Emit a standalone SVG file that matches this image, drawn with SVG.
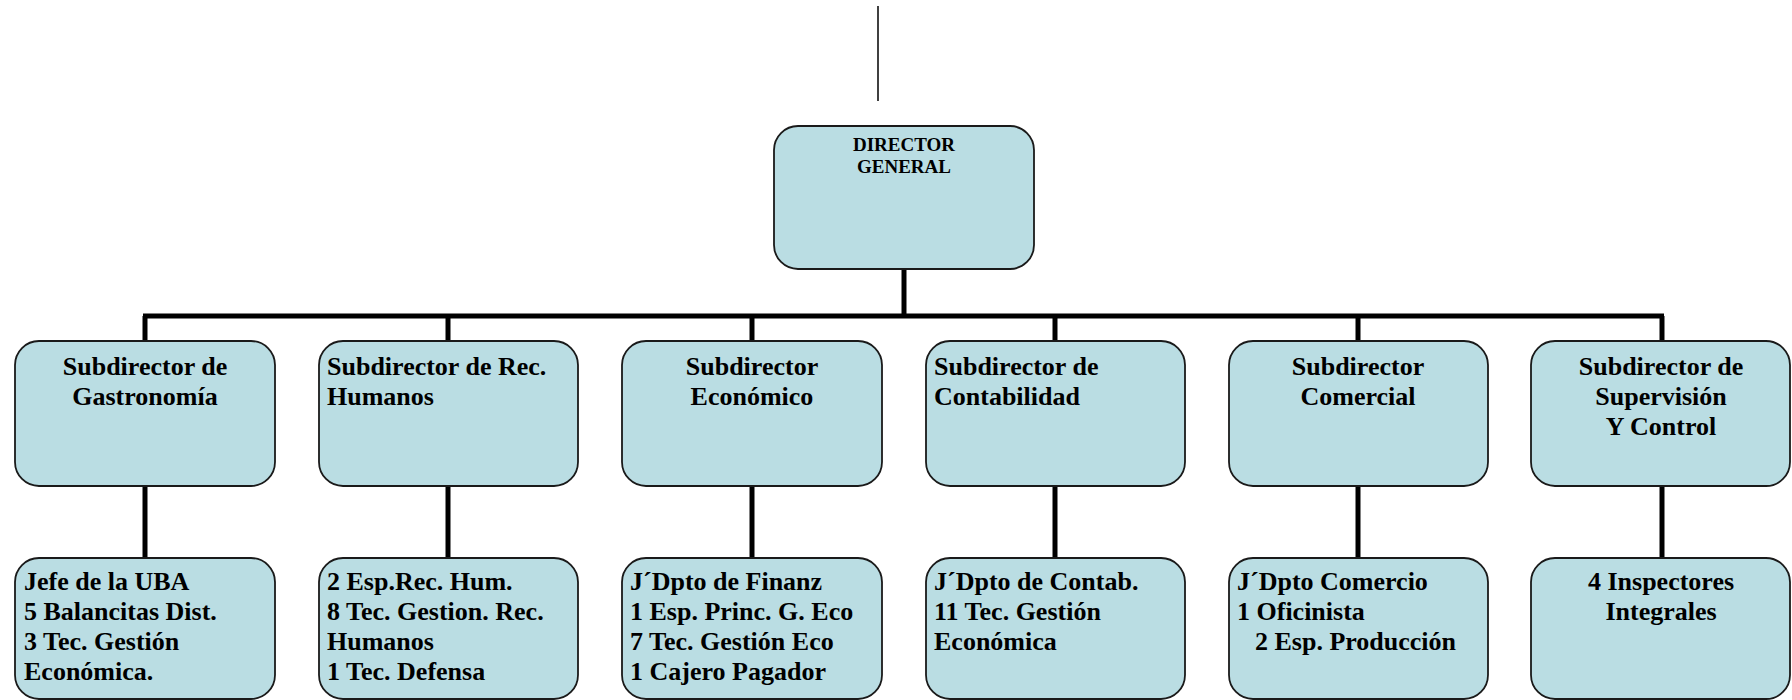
<svg xmlns="http://www.w3.org/2000/svg" width="1792" height="700" viewBox="0 0 1792 700">
<style>
.box{fill:#BADDE3;stroke:#1a1a1a;stroke-width:1.8}
.t{font-family:"Liberation Serif","Times New Roman",serif;font-weight:bold;font-size:26px;fill:#000}
.td{font-family:"Liberation Serif","Times New Roman",serif;font-weight:bold;font-size:19px;fill:#000}
.c{text-anchor:middle}
.thick{stroke:#000;stroke-width:5;fill:none}
.thin{stroke:#000;stroke-width:1.5;fill:none}
</style>
<rect width="1792" height="700" fill="#fff"/>
<g id="connectors">
<line class="thin" x1="878" y1="6" x2="878" y2="101"/>
<line class="thick" x1="904" y1="269" x2="904" y2="316"/>
<line class="thick" x1="143" y1="316" x2="1664" y2="316"/>
<line class="thick" x1="145" y1="316" x2="145" y2="341"/>
<line class="thick" x1="448" y1="316" x2="448" y2="341"/>
<line class="thick" x1="752" y1="316" x2="752" y2="341"/>
<line class="thick" x1="1055" y1="316" x2="1055" y2="341"/>
<line class="thick" x1="1358" y1="316" x2="1358" y2="341"/>
<line class="thick" x1="1662" y1="316" x2="1662" y2="341"/>
<line class="thick" x1="145" y1="486" x2="145" y2="558"/>
<line class="thick" x1="448" y1="486" x2="448" y2="558"/>
<line class="thick" x1="752" y1="486" x2="752" y2="558"/>
<line class="thick" x1="1055" y1="486" x2="1055" y2="558"/>
<line class="thick" x1="1358" y1="486" x2="1358" y2="558"/>
<line class="thick" x1="1662" y1="486" x2="1662" y2="558"/>
</g>
<g id="director">
<rect class="box" x="774" y="126" width="260" height="143" rx="24"/>
<text class="td c" x="904" y="151">DIRECTOR</text>
<text class="td c" x="904" y="173">GENERAL</text>
</g>
<g id="sub-gastronomia">
<rect class="box" x="15" y="341" width="260" height="145" rx="24"/>
<text class="t c" x="145" y="375">Subdirector de</text>
<text class="t c" x="145" y="405">Gastronomía</text>
</g>
<g id="sub-rrhh">
<rect class="box" x="319" y="341" width="259" height="145" rx="24"/>
<text class="t" x="327" y="375">Subdirector de Rec.</text>
<text class="t" x="327" y="405">Humanos</text>
</g>
<g id="sub-economico">
<rect class="box" x="622" y="341" width="260" height="145" rx="24"/>
<text class="t c" x="752" y="375">Subdirector</text>
<text class="t c" x="752" y="405">Económico</text>
</g>
<g id="sub-contabilidad">
<rect class="box" x="926" y="341" width="259" height="145" rx="24"/>
<text class="t" x="934" y="375">Subdirector de</text>
<text class="t" x="934" y="405">Contabilidad</text>
</g>
<g id="sub-comercial">
<rect class="box" x="1229" y="341" width="259" height="145" rx="24"/>
<text class="t c" x="1358" y="375">Subdirector</text>
<text class="t c" x="1358" y="405">Comercial</text>
</g>
<g id="sub-supervision">
<rect class="box" x="1531" y="341" width="259" height="145" rx="24"/>
<text class="t c" x="1661" y="375">Subdirector de</text>
<text class="t c" x="1661" y="405">Supervisión</text>
<text class="t c" x="1661" y="435">Y Control</text>
</g>
<g id="gastronomia-staff">
<rect class="box" x="15" y="558" width="260" height="141" rx="24"/>
<text class="t" x="24" y="590">Jefe de la UBA</text>
<text class="t" x="24" y="620">5 Balancitas Dist.</text>
<text class="t" x="24" y="650">3 Tec. Gestión</text>
<text class="t" x="24" y="680">Económica.</text>
</g>
<g id="rrhh-staff">
<rect class="box" x="319" y="558" width="259" height="141" rx="24"/>
<text class="t" x="327" y="590">2 Esp.Rec. Hum.</text>
<text class="t" x="327" y="620">8 Tec. Gestion. Rec.</text>
<text class="t" x="327" y="650">Humanos</text>
<text class="t" x="327" y="680">1 Tec. Defensa</text>
</g>
<g id="economico-staff">
<rect class="box" x="622" y="558" width="260" height="141" rx="24"/>
<text class="t" x="630" y="590">J´Dpto de Finanz</text>
<text class="t" x="630" y="620">1 Esp. Princ. G. Eco</text>
<text class="t" x="630" y="650">7 Tec. Gestión Eco</text>
<text class="t" x="630" y="680">1 Cajero Pagador</text>
</g>
<g id="contabilidad-staff">
<rect class="box" x="926" y="558" width="259" height="141" rx="24"/>
<text class="t" x="934" y="590">J´Dpto de Contab.</text>
<text class="t" x="934" y="620">11 Tec. Gestión</text>
<text class="t" x="934" y="650">Económica</text>
</g>
<g id="comercial-staff">
<rect class="box" x="1229" y="558" width="259" height="141" rx="24"/>
<text class="t" x="1237" y="590">J´Dpto Comercio</text>
<text class="t" x="1237" y="620">1 Oficinista</text>
<text class="t" x="1255" y="650">2 Esp. Producción</text>
</g>
<g id="supervision-staff">
<rect class="box" x="1531" y="558" width="259" height="141" rx="24"/>
<text class="t c" x="1661" y="590">4 Inspectores</text>
<text class="t c" x="1661" y="620">Integrales</text>
</g>
</svg>
